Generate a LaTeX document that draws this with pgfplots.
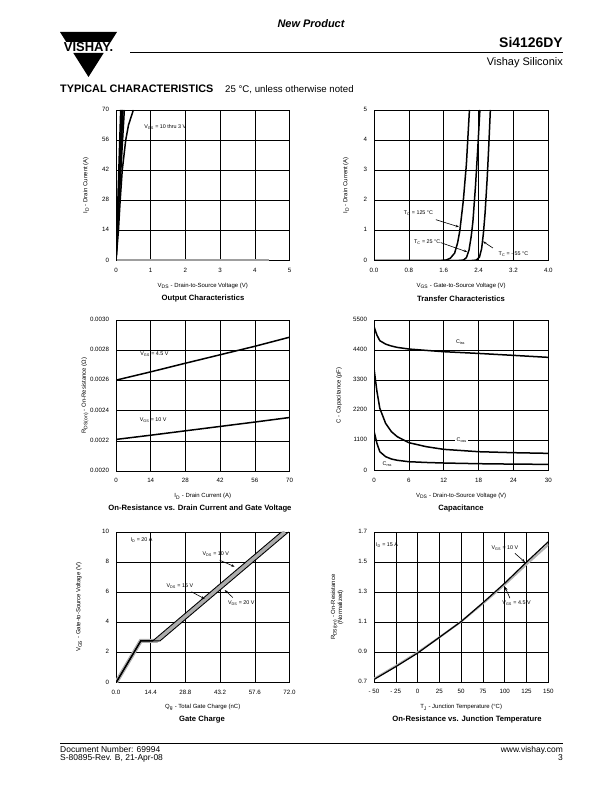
\documentclass[border=0pt]{standalone}
\usepackage{fontspec}
\setmainfont{Liberation Sans}
\usepackage{pgfplots}
\pgfplotsset{compat=1.18}
\usetikzlibrary{arrows.meta}
\pgfplotsset{
 ds/.style={scale only axis, anchor=south west, grid=major,
  major grid style={black,line width=0.55bp},
  axis line style={line width=0.8bp},
  major tick length=0pt,
  tick label style={font=\fontsize{6.2}{7}\selectfont},
  label style={font=\fontsize{6}{7}\selectfont},
  /pgf/number format/assume math mode=true,
  typeset ticklabels with strut,
  xticklabel style={yshift=-3bp},
  yticklabel style={xshift=-3.5bp},
  xlabel style={at={(axis description cs:0.5,0)}, anchor=center, yshift=-25bp},
  ylabel style={at={(axis description cs:0,0.5)}, anchor=center},
  every axis plot/.append style={line width=1.5bp, no marks},
  clip mode=individual}
}
\tikzset{
 ann/.style={font=\fontsize{5.4}{6.5}\selectfont, inner sep=0.5bp},
 arr/.style={-{Stealth[length=3.5bp,width=2.5bp]}, line width=0.6bp, black}
}
\begin{document}
\begin{tikzpicture}[x=1bp,y=1bp]
\useasboundingbox (0,0) rectangle (612,792);
% ---------- header ----------
\node[font=\fontsize{11}{12}\selectfont\bfseries\itshape] at (311,768) {New Product};
\fill (60,760) -- (117,760) -- (110.7,750) -- (66.3,750) -- cycle;
\fill (73.3,739) -- (103.7,739) -- (88.5,715) -- cycle;
\node[font=\fontsize{13}{13}\selectfont\bfseries, inner sep=0] at (88.5,745) {VISHAY.};
\draw[line width=0.9bp] (130,740) -- (563,740);
\node[anchor=base east, inner sep=0, font=\fontsize{14}{14}\selectfont\bfseries] at (563,744) {Si4126DY};
\node[anchor=base east, inner sep=0, font=\fontsize{11}{11}\selectfont] at (563,726) {Vishay Siliconix};
\node[anchor=base west, inner sep=0, font=\fontsize{10.9}{11}\selectfont\bfseries] at (60,699) {TYPICAL CHARACTERISTICS};
\node[anchor=base west, inner sep=0, font=\fontsize{9.7}{10}\selectfont] at (225,699) {25 °C, unless otherwise noted};
% ---------- footer ----------
\draw[line width=0.8bp] (60,49) -- (563,49);
\node[anchor=base west, inner sep=0, font=\fontsize{8.5}{9}\selectfont] at (60,39) {Document Number: 69994};
\node[anchor=base west, inner sep=0, font=\fontsize{8.5}{9}\selectfont] at (60,31) {S-80895-Rev. B, 21-Apr-08};
\node[anchor=base east, inner sep=0, font=\fontsize{8.5}{9}\selectfont] at (563,39) {www.vishay.com};
\node[anchor=base east, inner sep=0, font=\fontsize{8.5}{9}\selectfont] at (563,31) {3};
% ---------- titles ----------
\begin{scope}[every node/.style={font=\fontsize{7.7}{8}\selectfont\bfseries}]
\node at (203,493) {Output Characteristics};
\node at (461,493) {Transfer Characteristics};
\node at (200,283) {On-Resistance vs. Drain Current and Gate Voltage};
\node at (461,283) {Capacitance};
\node at (202,72) {Gate Charge};
\node at (467,72) {On-Resistance vs. Junction Temperature};
\end{scope}
% ---------- 1: output characteristics ----------
\begin{axis}[ds, at={(116bp,531.3bp)}, width=173.5bp, height=150.7bp,
 xmin=0, xmax=5, ymin=0, ymax=70, xtick={0,1,2,3,4,5}, ytick={0,14,28,42,56,70},
 xlabel={V\textsubscript{DS} - Drain-to-Source Voltage (V)},
 ylabel={I\textsubscript{D} - Drain Current (A)}, ylabel style={yshift=30bp}]
\addplot[gray!75] coordinates {(0,0.25) (4.4,0.25)};
\addplot[black] coordinates {(0,0) (0.135,70)};
\addplot[black] coordinates {(0,0) (0.17,70)};
\addplot[black] coordinates {(0,0) (0.20,70)};
\addplot[black] coordinates {(0,0) (0.06,20) (0.15,45) (0.24,70)};
\addplot[black] coordinates {(0,0) (0.07,14) (0.12,28) (0.18,42) (0.28,56) (0.36,63) (0.5,70)};
\node[ann] at (axis cs:1.42,62) {V\textsubscript{GS} = 10 thru 3 V};
\end{axis}
% ---------- 2: transfer characteristics ----------
\begin{axis}[ds, at={(374bp,531.3bp)}, width=174.3bp, height=150.7bp,
 xmin=0, xmax=4, ymin=0, ymax=5, xtick={0,0.8,1.6,2.4,3.2,4.0},
 xticklabels={0.0,0.8,1.6,2.4,3.2,4.0}, ytick={0,1,2,3,4,5},
 xlabel={V\textsubscript{GS} - Gate-to-Source Voltage (V)},
 ylabel={I\textsubscript{D} - Drain Current (A)}, ylabel style={yshift=28bp}]
\addplot[black] coordinates {(0,0) (1.5,0) (1.65,0.02) (1.75,0.08) (1.85,0.25) (1.92,0.6) (1.97,1.0) (2.05,2.0) (2.12,3.2) (2.19,5)};
\addplot[black] coordinates {(0,0) (1.9,0) (2.05,0.02) (2.12,0.1) (2.18,0.35) (2.23,0.8) (2.27,1.3) (2.33,2.5) (2.38,3.7) (2.43,5)};
\addplot[black] coordinates {(0,0) (2.2,0) (2.35,0.02) (2.42,0.12) (2.47,0.4) (2.51,0.9) (2.55,1.6) (2.6,2.8) (2.64,4) (2.67,5)};
\node[ann] at (axis cs:1.02,1.58) {T\textsubscript{C} = 125 °C};
\draw[arr] (axis cs:1.42,1.36) -- (axis cs:1.95,1.12);
\node[ann] at (axis cs:1.22,0.62) {T\textsubscript{C} = 25 °C};
\draw[arr] (axis cs:1.53,0.6) -- (axis cs:2.14,0.29);
\node[ann] at (axis cs:3.2,0.22) {T\textsubscript{C} = - 55 °C};
\draw[arr] (axis cs:2.73,0.42) -- (axis cs:2.5,0.64);
\end{axis}
% ---------- 3: on-resistance vs drain current ----------
\begin{axis}[ds, at={(116bp,320.8bp)}, width=173.5bp, height=151.2bp,
 xmin=0, xmax=70, ymin=0.002, ymax=0.003, xtick={0,14,28,42,56,70},
 ytick={0.002,0.0022,0.0024,0.0026,0.0028,0.003},
 yticklabels={0.0020,0.0022,0.0024,0.0026,0.0028,0.0030},
 scaled y ticks=false,
 xlabel={I\textsubscript{D} - Drain Current (A)},
 ylabel={R\textsubscript{DS(on)} - On-Resistance (Ω)}, ylabel style={yshift=31bp}]
\addplot[black] coordinates {(0,0.002602) (14,0.002657) (28,0.002714) (42,0.002770) (56,0.002826) (70,0.002886)};
\addplot[black] coordinates {(0,0.00221) (14,0.002238) (28,0.002267) (42,0.002296) (56,0.002325) (70,0.002355)};
\node[ann] at (axis cs:15.5,0.002772) {V\textsubscript{GS} = 4.5 V};
\node[ann] at (axis cs:15,0.00234) {V\textsubscript{GS} = 10 V};
\end{axis}
% ---------- 4: capacitance ----------
\begin{axis}[ds, at={(374bp,321.3bp)}, width=174.3bp, height=150.7bp,
 xmin=0, xmax=30, ymin=0, ymax=5500, xtick={0,6,12,18,24,30},
 ytick={0,1100,2200,3300,4400,5500}, scaled y ticks=false,
 yticklabel style={/pgf/number format/1000 sep={}},
 xlabel={V\textsubscript{DS} - Drain-to-Source Voltage (V)},
 ylabel={C - Capacitance (pF)}, ylabel style={yshift=35bp}]
\addplot[black] coordinates {(0,5256) (0.5,4950) (1,4745) (2,4620) (3,4550) (4,4500) (6,4440) (9,4390) (12,4343) (18,4280) (24,4209) (30,4136)};
\addplot[black] coordinates {(0,3735) (0.5,2900) (1,2275) (2,1727) (3,1423) (4,1241) (6,1022) (9,876) (12,779) (18,693) (24,657) (30,633)};
\addplot[black] coordinates {(0,1448) (0.5,1000) (1,693) (2,511) (3,426) (4,380) (6,328) (9,300) (12,280) (18,255) (24,240) (30,231)};
\node[ann] at (axis cs:14.9,4684) {C\textsubscript{iss}};
\node[ann, fill=white, inner sep=1.5bp] at (axis cs:15.1,1110) {C\textsubscript{oss}};
\node[ann] at (axis cs:2.3,231) {C\textsubscript{rss}};
\end{axis}
% ---------- 5: gate charge ----------
\begin{axis}[ds, at={(116bp,109.3bp)}, width=173.5bp, height=150.7bp,
 xmin=0, xmax=72, ymin=0, ymax=10, xtick={0,14.4,28.8,43.2,57.6,72},
 xticklabels={0.0,14.4,28.8,43.2,57.6,72.0}, ytick={0,2,4,6,8,10},
 xlabel={Q\textsubscript{g} - Total Gate Charge (nC)},
 ylabel={V\textsubscript{GS} - Gate-to-Source Voltage (V)}, ylabel style={yshift=37bp}]
\addplot[gray!65, line width=4bp] coordinates {(0,0) (10.3,2.78) (16.8,2.78) (70.1,10)};
\addplot[black, line width=0.9bp] coordinates {(0,0) (10.3,2.78) (15.3,2.78) (68.6,10)};
\addplot[black, line width=0.9bp] coordinates {(0,0) (10.3,2.78) (18.3,2.78) (71.6,10)};
\addplot[black, line width=1.3bp] coordinates {(0,0) (10.3,2.78) (15.3,2.78)};
\node[ann] at (axis cs:10.6,9.45) {I\textsubscript{D} = 20 A};
\node[ann] at (axis cs:41.4,8.55) {V\textsubscript{DS} = 10 V};
\draw[arr] (axis cs:43,8.13) -- (axis cs:49.2,7.7);
\node[ann] at (axis cs:26.5,6.42) {V\textsubscript{DS} = 15 V};
\draw[arr] (axis cs:31.3,6.04) -- (axis cs:36.8,5.56);
\node[ann] at (axis cs:52,5.28) {V\textsubscript{DS} = 20 V};
\draw[arr] (axis cs:48.5,5.65) -- (axis cs:45.1,6.15);
\end{axis}
% ---------- 6: on-resistance vs junction temperature ----------
\begin{axis}[ds, at={(374bp,109.5bp)}, width=174.3bp, height=150.5bp,
 xmin=-50, xmax=150, ymin=0.7, ymax=1.7, xtick={-50,-25,0,25,50,75,100,125,150},
 xticklabels={- 50,- 25,0,25,50,75,100,125,150},
 ytick={0.7,0.9,1.1,1.3,1.5,1.7}, yticklabels={0.7,0.9,1.1,1.3,1.5,1.7},
 xlabel={T\textsubscript{J} - Junction Temperature (°C)},
 ylabel={R\textsubscript{DS(on)} - On-Resistance\\(Normalized)},
 ylabel style={yshift=37bp, align=center}]
\addplot[gray!60, line width=2bp] coordinates {(-50,0.725) (-25,0.81) (0,0.9) (25,1.0) (50,1.105) (75,1.225) (100,1.35) (125,1.485) (150,1.615)};
\addplot[black, line width=1.2bp] coordinates {(-50,0.72) (-25,0.805) (0,0.895) (25,1.0) (50,1.105) (75,1.23) (100,1.36) (125,1.50) (150,1.635)};
\node[ann] at (axis cs:-35,1.61) {I\textsubscript{D} = 15 A};
\node[ann] at (axis cs:100.2,1.59) {V\textsubscript{GS} = 10 V};
\draw[arr] (axis cs:111.7,1.558) -- (axis cs:123.2,1.50);
\node[ann] at (axis cs:113.6,1.225) {V\textsubscript{GS} = 4.5 V};
\draw[arr] (axis cs:106,1.26) -- (axis cs:100.2,1.336);
\end{axis}
\end{tikzpicture}
\end{document}
